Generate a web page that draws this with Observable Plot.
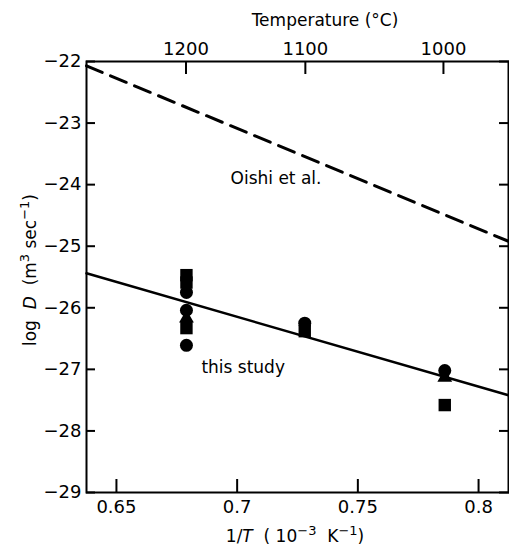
<!DOCTYPE html>
<html><head><meta charset="utf-8">
<script src="https://cdn.jsdelivr.net/npm/d3@7"></script>
<script src="https://cdn.jsdelivr.net/npm/@observablehq/plot@0.6"></script>
<style>body{margin:0;background:#fff;} #chart svg{display:block;}</style>
</head><body><div id="chart"></div>
<script>
// ---- data ----
const xTicks = [0.65, 0.7, 0.75, 0.8];
const yTicks = [-22, -23, -24, -25, -26, -27, -28, -29];
const tempTicks = [1200, 1100, 1000]; // °C, top axis

const circleX = [0.679, 0.679, 0.679, 0.728, 0.786];
const circleY = [-25.75, -26.04, -26.61, -26.25, -27.02];
const squareX = [0.679, 0.679, 0.679, 0.728, 0.786];
const squareY = [-25.47, -25.59, -26.33, -26.38, -27.58];
const triangleX = [0.679, 0.786];
const triangleY = [-26.17, -27.13];

const fitX = [0.6376, 0.8124];
const thisStudyY = [-25.44, -27.42];
const oishiY = [-22.07, -24.92];

const labels = [
  {x: 0.7161, y: -23.90, text: "Oishi et al."},
  {x: 0.7025, y: -26.97, text: "this study"}
];

// ---- build tables ----
const pts = (xs, ys) => xs.map((x, i) => ({x, y: ys[i]}));
const circles = pts(circleX, circleY);
const squares = pts(squareX, squareY);
const triangles = pts(triangleX, triangleY);
const thisStudy = pts(fitX, thisStudyY);
const oishi = pts(fitX, oishiY);
const tempPos = tempTicks.map(t => 1000 / (t + 273.15));

const font = "DejaVu Sans";
const plot = Plot.plot({
  width: 509,
  height: 549,
  marginLeft: 86,
  marginRight: 1,
  marginTop: 61,
  marginBottom: 57,
  style: {fontFamily: font, fontSize: "17px", color: "black", background: "white"},
  x: {domain: [0.6376, 0.8124]},
  y: {domain: [-29, -22]},
  marks: [
    Plot.line(oishi, {x: "x", y: "y", stroke: "black", strokeWidth: 3, strokeDasharray: "17,9"}),
    Plot.line(thisStudy, {x: "x", y: "y", stroke: "black", strokeWidth: 2.5}),
    Plot.dot(triangles, {x: "x", y: "y", symbol: "triangle", r: 5.5, fill: "black"}),
    Plot.dot(squares, {x: "x", y: "y", symbol: "square", r: 7, fill: "black"}),
    Plot.dot(circles, {x: "x", y: "y", symbol: "circle", r: 6.5, fill: "black"}),
    Plot.text(labels, {x: "x", y: "y", text: "text", fontSize: 17, fill: "black"}),
    Plot.axisX(xTicks, {anchor: "bottom", tickSize: -13, tickPadding: 21, strokeWidth: 2, label: null, fontSize: 18, tickFormat: d => String(d)}),
    Plot.axisX(tempPos, {anchor: "top", tickSize: -12, tickPadding: 19, strokeWidth: 2, label: null, fontSize: 18,
      tickFormat: d => String(Math.round(1000 / d - 273.15))}),
    Plot.axisY(yTicks, {anchor: "left", tickSize: -9, tickPadding: 14, strokeWidth: 2, label: null, fontSize: 18, tickFormat: d => "−" + String(-d)}),
    Plot.axisY(yTicks, {anchor: "right", tickSize: -10, strokeWidth: 2, label: null, tickFormat: () => ""}),
    Plot.frame({stroke: "black", strokeWidth: 2})
  ]
});

const svg = d3.select(plot);
// top title
svg.append("text").attr("x", 325).attr("y", 20).attr("text-anchor", "middle")
  .attr("dominant-baseline", "central").attr("font-family", font).attr("font-size", 17)
  .text("Temperature (°C)");
// bottom label: 1/T (10^-3 K^-1)
const bl = svg.append("text").attr("x", 295).attr("y", 542).attr("text-anchor", "middle")
  .attr("font-family", font).attr("font-size", 17).attr("xml:space", "preserve").style("white-space", "pre");
bl.append("tspan").text("1/");
bl.append("tspan").attr("font-style", "italic").text("T");
bl.append("tspan").text("  ( 10");
bl.append("tspan").attr("dy", -7).attr("font-size", 13).text("−3");
bl.append("tspan").attr("dy", 7).text("  K");
bl.append("tspan").attr("dy", -7).attr("font-size", 13).text("−1");
bl.append("tspan").attr("dy", 7).text(")");
// y label: log D (m^3 sec^-1)
const yl = svg.append("text").attr("transform", "translate(36,270) rotate(-90)").attr("text-anchor", "middle")
  .attr("font-family", font).attr("font-size", 17).style("white-space", "pre");
yl.append("tspan").text("log  ");
yl.append("tspan").attr("font-style", "italic").text("D");
yl.append("tspan").text("  (m");
yl.append("tspan").attr("dy", -7).attr("font-size", 13).text("3");
yl.append("tspan").attr("dy", 7).text(" sec");
yl.append("tspan").attr("dy", -7).attr("font-size", 13).text("−1");
yl.append("tspan").attr("dy", 7).text(")");

document.getElementById("chart").appendChild(plot);
</script>
</body></html>
